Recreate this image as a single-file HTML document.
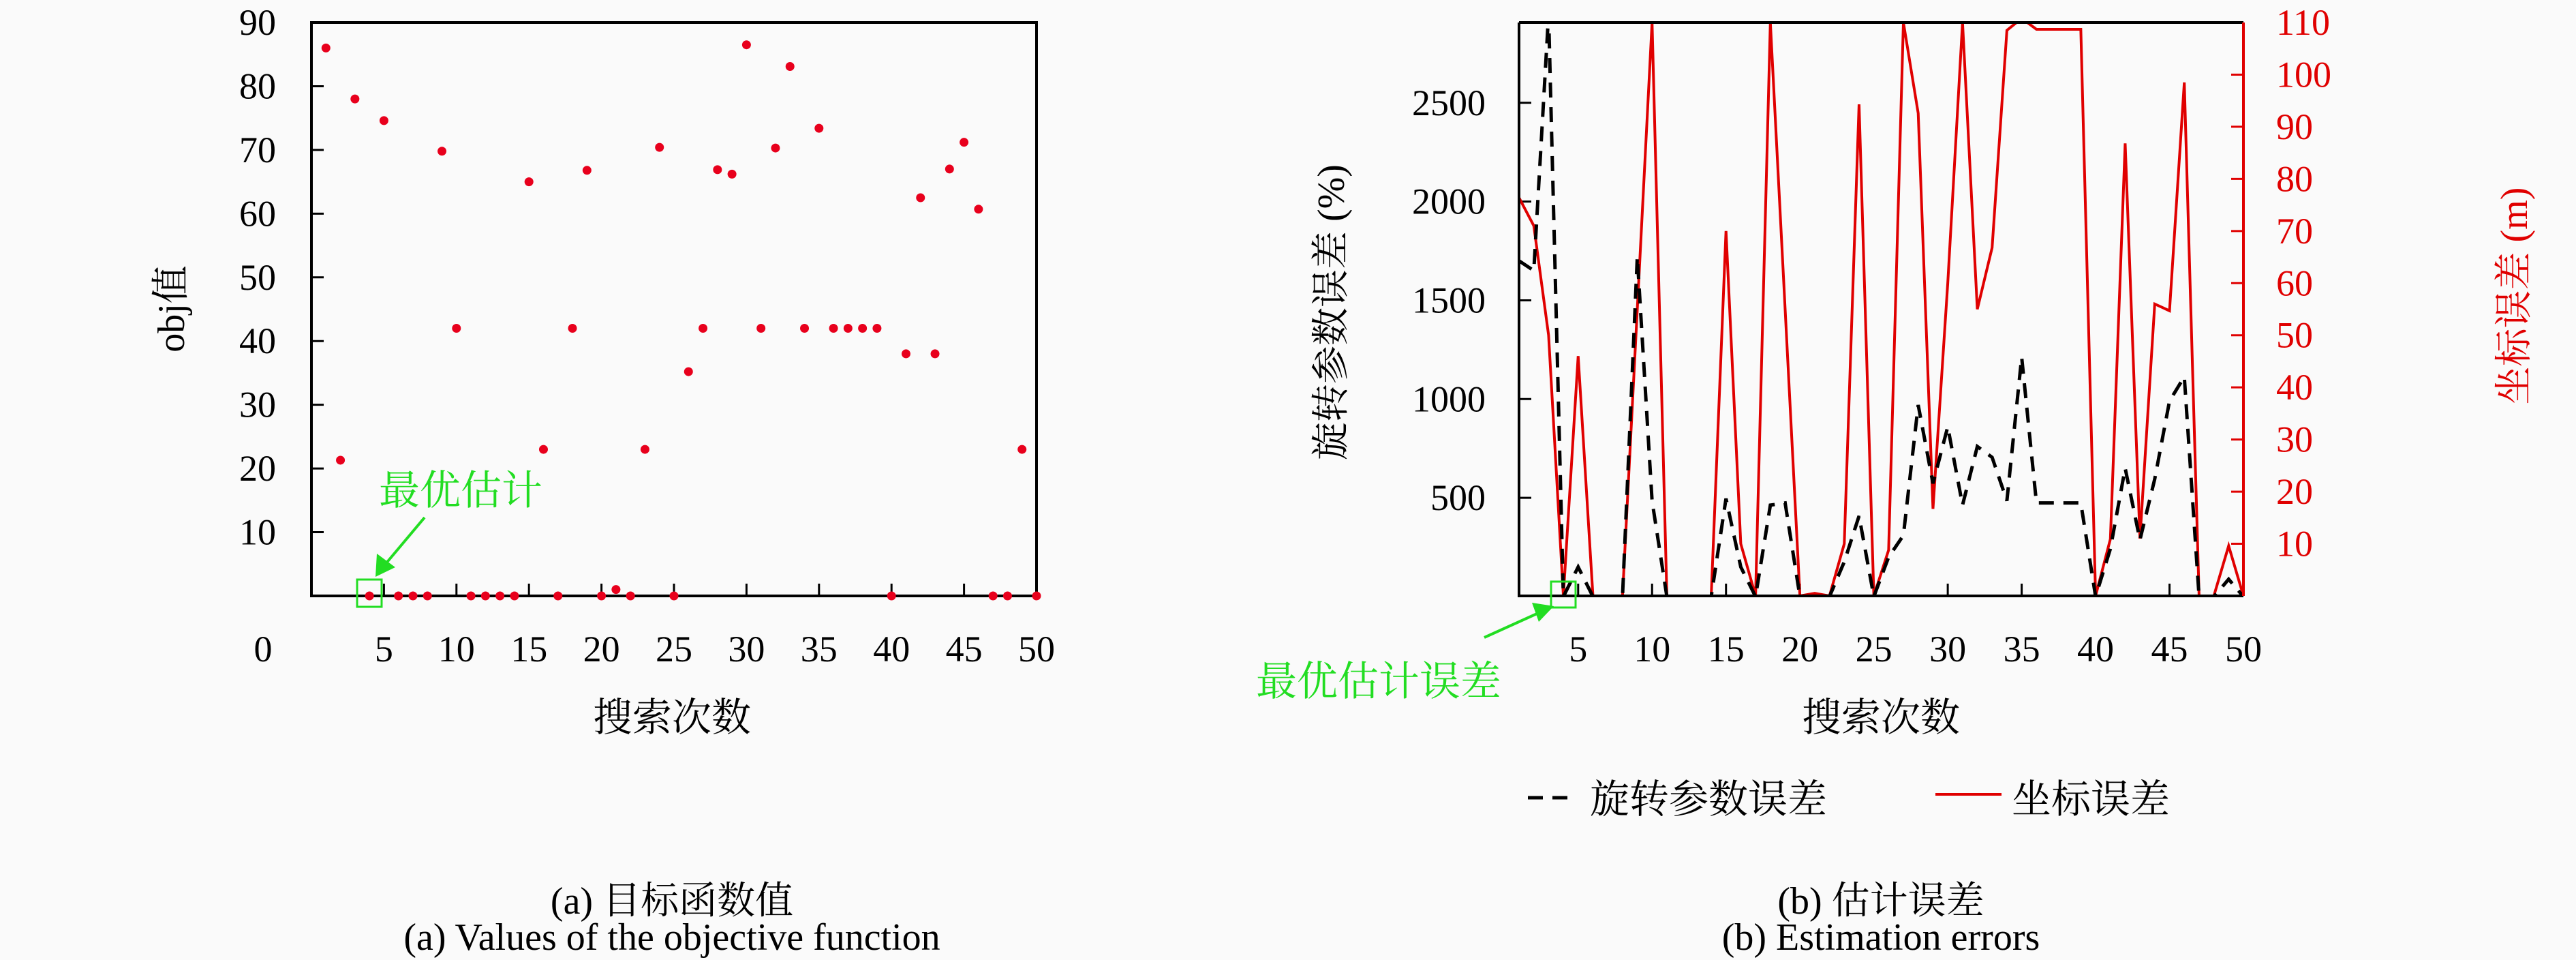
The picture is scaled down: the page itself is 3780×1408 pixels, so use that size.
<!DOCTYPE html>
<html><head><meta charset="utf-8"><style>
body{margin:0;background:#fafafa;}
svg{display:block;}
text{font-family:"Liberation Serif","Noto Serif CJK SC",serif;}
</style></head><body>
<svg id="c" width="3780" height="1408" viewBox="0 0 3780 1408" xmlns="http://www.w3.org/2000/svg">
<rect width="3780" height="1408" fill="#fafafa"/>
<g id="left"></g>
<g id="right"></g>
</svg>
<script>
const iterations = Array.from({length:50},(_,i)=>i+1);
const objValues = [86,21.3,78,0,74.6,0,0,0,69.8,42,0,0,0,0,65,23,0,42,66.8,0,1,0,23,70.4,0,35.2,42,66.9,66.2,86.5,42,70.3,83.1,42,73.4,42,42,42,42,0,38,62.5,38,67,71.2,60.7,0,0,23,0];
const rotErr = [1700,1650,2950,0,150,0,0,0,1720,485,0,0,0,0,496,150,0,463,474,0,0,0,176,408,0,200,310,970,573,860,463,760,705,485,1212,474,474,474,474,0,242,650,287,595,990,1113,0,0,88,0];
const coordErr = [76.4,71,50,0,46,0,0,0,55,110,0,0,0,0,70,10,0,110,55,0,0.5,0,10,94.3,0,8.8,110,92.6,16.7,60,110,55,66.8,108.5,110.8,108.7,108.7,108.7,108.7,0,10.9,86.8,11,56,54.7,98.5,0,0,9.6,0];
const leftYTicks = [10,20,30,40,50,60,70,80,90];
const xTicks = [5,10,15,20,25,30,35,40,45,50];
const rotTicks = [500,1000,1500,2000,2500];
const coordTicks = [10,20,30,40,50,60,70,80,90,100,110];

const NS="http://www.w3.org/2000/svg";
function mk(parent,tag,attrs,txt){const e=document.createElementNS(NS,tag);for(const k in attrs)e.setAttribute(k,attrs[k]);if(txt!==undefined)e.textContent=txt;parent.appendChild(e);return e;}

// ---- Left chart ----
const L=document.getElementById('left');
const lx=v=>457+(v-0)/50*(1521-457);
const ly=v=>874-v/90*(874-33);
let e;
for(const t of leftYTicks){
 e=mk(L,'line',{x1:457,x2:475,y1:ly(t),y2:ly(t),stroke:'#000','stroke-width':3});
 
 
 e=mk(L,'text',{x:405,y:ly(t)+18,'font-size':54,'text-anchor':'end'},String(t));
 
 
}
for(const t of xTicks){
 e=mk(L,'line',{x1:lx(t),x2:lx(t),y1:874,y2:856,stroke:'#000','stroke-width':3});
 
 
 e=mk(L,'text',{x:lx(t),y:970,'font-size':54,'text-anchor':'middle'},String(t));
 
 
}
e=mk(L,'text',{x:386,y:970,'font-size':54,'text-anchor':'middle'},'0');


e=mk(L,'rect',{x:457,y:33,width:1064,height:841,fill:'none',stroke:'#000','stroke-width':4});


iterations.forEach((it,i)=>{
 const p=mk(L,'circle',{cx:lx(it),cy:ly(objValues[i]),r:6.5,fill:'#e8001c'});
 
 
});
e=mk(L,'text',{x:270,y:453,'font-size':56,'text-anchor':'middle',transform:'rotate(-90 270 453)'},'obj值');


e=mk(L,'text',{x:986,y:1072,'font-size':58,'text-anchor':'middle'},'搜索次数');


e=mk(L,'rect',{x:524,y:850,width:36,height:40,fill:'none',stroke:'#22dd22','stroke-width':3});


e=mk(L,'line',{x1:623,y1:759,x2:565,y2:828,stroke:'#22dd22','stroke-width':4});


e=mk(L,'polygon',{points:'551,846 553,812 580,832',fill:'#22dd22'});


e=mk(L,'text',{x:556,y:740,'font-size':60,fill:'#22dd22'},'最优估计');


e=mk(L,'text',{x:986,y:1340,'font-size':56,'text-anchor':'middle'},'(a) 目标函数值');


e=mk(L,'text',{x:986,y:1393,'font-size':56,'text-anchor':'middle'},'(a) Values of the objective function');



// ---- Right chart ----
const R=document.getElementById('right');
const rx=v=>2229+(v-1)/49*(3292-2229);
const ryL=v=>875-v*0.2897;
const ryR=v=>874-v/110*(874-33);
e=mk(R,'defs',{});
const cp=mk(e,'clipPath',{id:'clipR'});
mk(cp,'rect',{x:2229,y:33,width:1063,height:841});
for(const t of rotTicks){
 e=mk(R,'line',{x1:2229,x2:2247,y1:ryL(t),y2:ryL(t),stroke:'#000','stroke-width':3});
 
 
 e=mk(R,'text',{x:2180,y:ryL(t)+18,'font-size':54,'text-anchor':'end'},String(t));
 
 
}
for(const t of coordTicks){
 e=mk(R,'line',{x1:3292,x2:3274,y1:ryR(t),y2:ryR(t),stroke:'#e00000','stroke-width':3});
 
 
 e=mk(R,'text',{x:3340,y:ryR(t)+18,'font-size':54,fill:'#e00000'},String(t));
 
 
}
for(const t of xTicks){
 e=mk(R,'line',{x1:rx(t),x2:rx(t),y1:874,y2:856,stroke:'#000','stroke-width':3});
 
 
 e=mk(R,'text',{x:rx(t),y:970,'font-size':54,'text-anchor':'middle'},String(t));
 
 
}
const coordPts=iterations.map((it,i)=>rx(it)+','+ryR(coordErr[i])).join(' ');
e=mk(R,'polyline',{points:coordPts,fill:'none',stroke:'#e00000','stroke-width':4,'clip-path':'url(#clipR)'});


const rotPts=iterations.map((it,i)=>rx(it)+','+ryL(rotErr[i])).join(' ');
e=mk(R,'polyline',{points:rotPts,fill:'none',stroke:'#000','stroke-width':5,'stroke-dasharray':'22,14','clip-path':'url(#clipR)'});


e=mk(R,'path',{d:'M2229 33 H3292 M2229 33 V874 H3292',fill:'none',stroke:'#000','stroke-width':4});


e=mk(R,'line',{x1:3292,y1:33,x2:3292,y2:874,stroke:'#e00000','stroke-width':4});


e=mk(R,'text',{x:1972,y:458,'font-size':56,'text-anchor':'middle',transform:'rotate(-90 1972 458)'},'旋转参数误差 (%)');


e=mk(R,'text',{x:3708,y:434,'font-size':56,'text-anchor':'middle',fill:'#e00000',transform:'rotate(-90 3708 434)'},'坐标误差 (m)');


e=mk(R,'text',{x:2760,y:1072,'font-size':58,'text-anchor':'middle'},'搜索次数');


e=mk(R,'rect',{x:2276,y:853,width:36,height:38,fill:'none',stroke:'#22dd22','stroke-width':3});


e=mk(R,'line',{x1:2178,y1:935,x2:2262,y2:897,stroke:'#22dd22','stroke-width':4});


e=mk(R,'polygon',{points:'2280,889 2248,884 2258,912',fill:'#22dd22'});


e=mk(R,'text',{x:1843,y:1020,'font-size':60,fill:'#22dd22'},'最优估计误差');


// legend
e=mk(R,'line',{x1:2242,x2:2314,y1:1170,y2:1170,stroke:'#000','stroke-width':5,'stroke-dasharray':'22,14'});


e=mk(R,'text',{x:2333,y:1192,'font-size':58},'旋转参数误差');


e=mk(R,'line',{x1:2840,x2:2937,y1:1165,y2:1165,stroke:'#e00000','stroke-width':4});


e=mk(R,'text',{x:2952,y:1192,'font-size':58},'坐标误差');


e=mk(R,'text',{x:2760,y:1340,'font-size':56,'text-anchor':'middle'},'(b) 估计误差');


e=mk(R,'text',{x:2760,y:1393,'font-size':56,'text-anchor':'middle'},'(b) Estimation errors');


</script>
</body></html>
